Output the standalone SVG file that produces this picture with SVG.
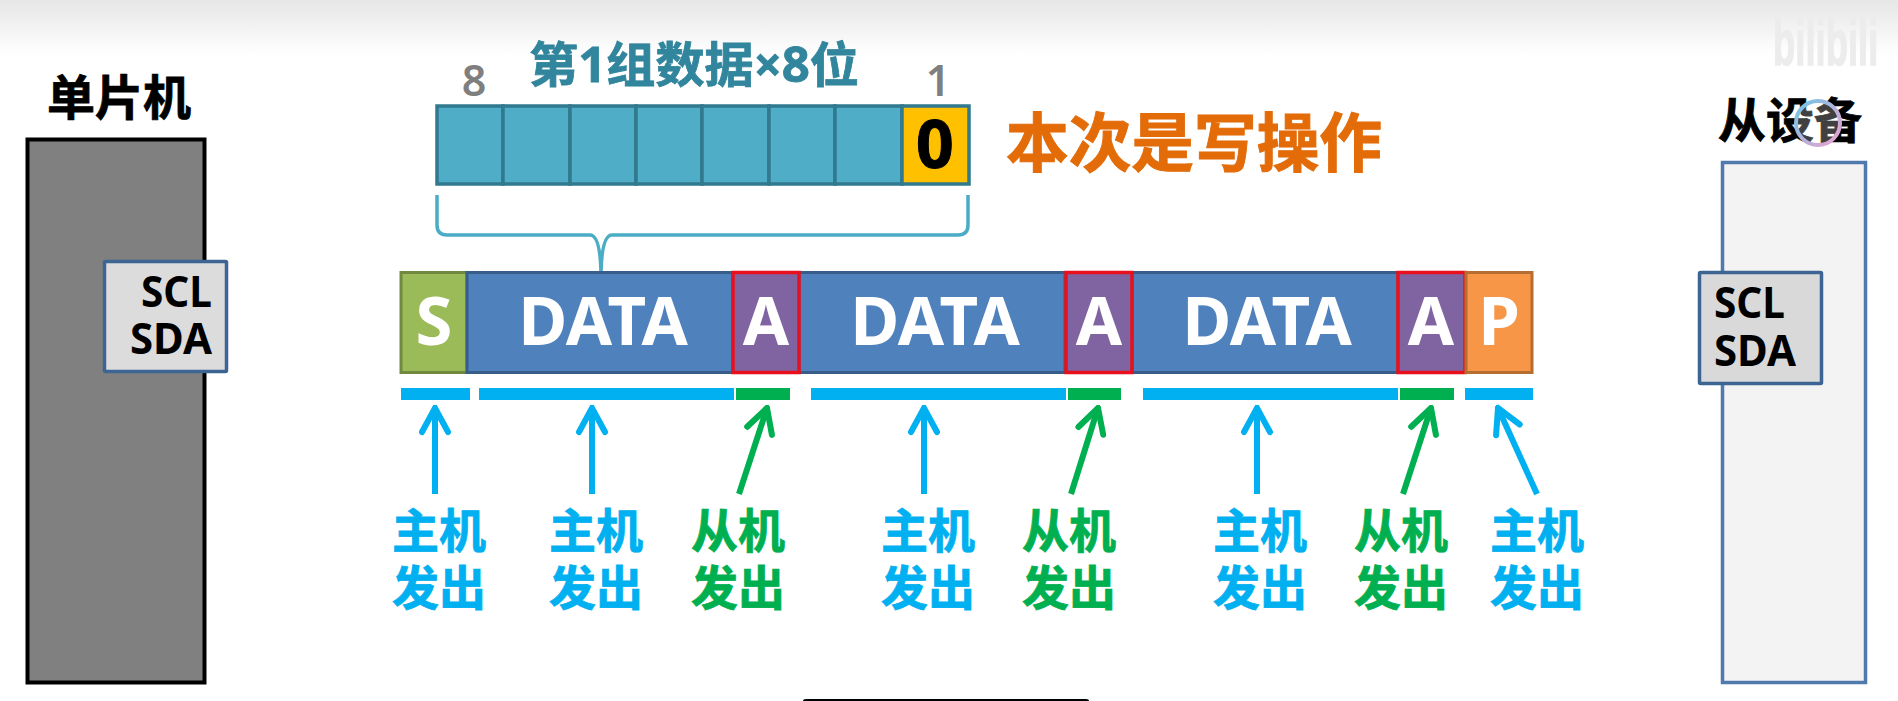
<svg xmlns="http://www.w3.org/2000/svg" width="1898" height="701" viewBox="0 0 1898 701">
<defs>
<linearGradient id="top" x1="0" y1="0" x2="0" y2="1"><stop offset="0" stop-color="#e6e6e6"/><stop offset="1" stop-color="#ffffff"/></linearGradient>
<linearGradient id="ring" x1="0" y1="0" x2="1" y2="1"><stop offset="0" stop-color="#6ec6e6"/><stop offset="1" stop-color="#f0a0d0"/></linearGradient>
<marker id="hb" viewBox="0 0 32 32" refX="29" refY="16" markerUnits="userSpaceOnUse" markerWidth="32" markerHeight="32" orient="auto"><path d="M5 3L29 16L5 29" fill="none" stroke="#00b0f0" stroke-width="6" stroke-linecap="round" stroke-linejoin="miter"/></marker>
<marker id="hg" viewBox="0 0 32 32" refX="29" refY="16" markerUnits="userSpaceOnUse" markerWidth="32" markerHeight="32" orient="auto"><path d="M5 3L29 16L5 29" fill="none" stroke="#00b050" stroke-width="6" stroke-linecap="round" stroke-linejoin="miter"/></marker>
</defs>
<style>
text{font-family:"Noto Sans","Noto Sans CJK SC",sans-serif}
.t{font-weight:700;fill:#000;stroke:#000;stroke-width:.8}
.pin{font-size:43px;font-weight:700;fill:#000}
.w{font-size:67px;font-weight:700;fill:#fff;text-anchor:middle}
.lb{font-size:47px;font-weight:700;text-anchor:middle;font-family:"Noto Sans CJK SC",sans-serif;stroke-width:.8}
.b{fill:#00b0f0}.g{fill:#00b050}
.lbl-b{fill:#00b0f0;stroke:#00b0f0}.lbl-g{fill:#00b050;stroke:#00b050}
.cell{fill:#4fadc8;stroke:#31798e;stroke-width:3.500}
.data{fill:#4f81bd;stroke:#385d8a;stroke-width:3}
.ack{fill:#8064a2;stroke:#e8101c;stroke-width:3.500}
.ab{stroke:#00b0f0;stroke-width:6;fill:none;marker-end:url(#hb)}
.ag{stroke:#00b050;stroke-width:6;fill:none;marker-end:url(#hg)}
</style>
<rect width="1898" height="701" fill="#fff"/>
<rect width="1898" height="55" fill="url(#top)"/>
<text transform="translate(1773,65) scale(.57,1)" font-size="64" font-weight="700" fill="#ececec" stroke="#ececec" stroke-width="1.500" style="font-family:'Liberation Sans',sans-serif">bilibili</text>
<g id="mcu">
<rect x="27.500" y="139.500" width="177" height="543" fill="#808080" stroke="#000" stroke-width="4"/>
<text class="t" x="119" y="115" font-size="48" text-anchor="middle" style="font-family:'Noto Sans CJK SC',sans-serif">单片机</text>
<rect x="104.500" y="261.500" width="122" height="110" rx="1" fill="#dcdcdc" stroke="#3d6594" stroke-width="3.500"/>
<text class="pin" x="212" y="307" text-anchor="end" textLength="71" lengthAdjust="spacingAndGlyphs">SCL</text>
<text class="pin" x="212" y="354" text-anchor="end" textLength="82" lengthAdjust="spacingAndGlyphs">SDA</text>
</g>
<g id="slave">
<rect x="1722.500" y="162.500" width="143" height="520" fill="#f3f3f3" stroke="#5079ad" stroke-width="3.500"/>
<text class="t" x="1790" y="138" font-size="48" text-anchor="middle" style="font-family:'Noto Sans CJK SC',sans-serif">从设备</text>
<rect x="1699.500" y="272.500" width="122" height="111" rx="1" fill="#d9d9d9" stroke="#3d6594" stroke-width="3.500"/>
<text class="pin" x="1714" y="318" textLength="71" lengthAdjust="spacingAndGlyphs">SCL</text>
<text class="pin" x="1714" y="366" textLength="82" lengthAdjust="spacingAndGlyphs">SDA</text>
<circle cx="1818" cy="123" r="22" fill="#ffffff" fill-opacity=".25" stroke="url(#ring)" stroke-width="4"/>
</g>
<g id="register">
<rect class="cell" x="437" y="106" width="66" height="78"/>
<rect class="cell" x="503" y="106" width="67" height="78"/>
<rect class="cell" x="570" y="106" width="66" height="78"/>
<rect class="cell" x="636" y="106" width="66" height="78"/>
<rect class="cell" x="702" y="106" width="67" height="78"/>
<rect class="cell" x="769" y="106" width="66" height="78"/>
<rect class="cell" x="835" y="106" width="67" height="78"/>
<rect x="902" y="106" width="67" height="78" fill="#ffc000" stroke="#31798e" stroke-width="3.500"/>
<text x="935" y="168" font-size="66" font-weight="700" fill="#000" stroke="#000" stroke-width="1" text-anchor="middle">0</text>
<text x="474" y="96" font-size="43" font-weight="600" fill="#7f7f7f" text-anchor="middle">8</text>
<text x="938" y="96" font-size="43" font-weight="600" fill="#7f7f7f" text-anchor="middle">1</text>
<text x="529" y="82" font-size="48" font-weight="700" fill="#31859c" stroke="#31859c" stroke-width=".8" textLength="330" lengthAdjust="spacingAndGlyphs">第1组数据×8位</text>
<text x="1006" y="166" font-size="64" font-weight="700" fill="#e36c09" stroke="#e36c09" stroke-width="1" textLength="376" lengthAdjust="spacingAndGlyphs" style="font-family:'Noto Sans CJK SC',sans-serif">本次是写操作</text>
</g>
<path id="brace" d="M437 195V225Q437 235 447 235H590Q600 235 601 272Q602 235 612 235H958Q968 235 968 225V195" fill="none" stroke="#4bacc6" stroke-width="3.500"/>
<g id="frame">
<g id="s"><rect x="401" y="272.500" width="66" height="100" fill="#9bbb59" stroke="#71893f" stroke-width="3"/><text class="w" x="434" y="345">S</text></g>
<g id="d1"><rect class="data" x="467" y="272.500" width="266" height="100"/><text class="w" x="603" y="345">DATA</text></g>
<g id="d2"><rect class="data" x="799" y="272.500" width="266" height="100"/><text class="w" x="935" y="345">DATA</text></g>
<g id="d3"><rect class="data" x="1132" y="272.500" width="266" height="100"/><text class="w" x="1267" y="345">DATA</text></g>
<g id="a1"><rect class="ack" x="733" y="272.500" width="66" height="100"/><text class="w" x="766" y="345">A</text></g>
<g id="a2"><rect class="ack" x="1066" y="272.500" width="66" height="100"/><text class="w" x="1099" y="345">A</text></g>
<g id="a3"><rect class="ack" x="1398" y="272.500" width="67" height="100"/><text class="w" x="1431" y="345">A</text></g>
<g id="p"><rect x="1466" y="272.500" width="66" height="100" fill="#f79646" stroke="#b66d31" stroke-width="3"/><text class="w" x="1499" y="345">P</text></g>
</g>
<g id="bars">
<rect class="b" x="401" y="388" width="69" height="12"/>
<rect class="b" x="479" y="388" width="255" height="12"/>
<rect class="g" x="736" y="388" width="54" height="12"/>
<rect class="b" x="811" y="388" width="255" height="12"/>
<rect class="g" x="1068" y="388" width="53" height="12"/>
<rect class="b" x="1143" y="388" width="255" height="12"/>
<rect class="g" x="1400" y="388" width="54" height="12"/>
<rect class="b" x="1465" y="388" width="68" height="12"/>
</g>
<g id="connectors">
<line class="ab" x1="435" y1="494" x2="435" y2="408"/>
<line class="ab" x1="592" y1="494" x2="592" y2="408"/>
<line class="ag" x1="739" y1="494" x2="767" y2="408"/>
<line class="ab" x1="924" y1="494" x2="924" y2="408"/>
<line class="ag" x1="1071" y1="494" x2="1098" y2="408"/>
<line class="ab" x1="1257" y1="494" x2="1257" y2="408"/>
<line class="ag" x1="1403" y1="494" x2="1431" y2="408"/>
<line class="ab" x1="1537" y1="494" x2="1498" y2="408"/>
</g>
<g id="labels">
<g class="lbl-b"><text class="lb" x="439" y="548">主机</text><text class="lb" x="439" y="605">发出</text></g>
<g class="lbl-b"><text class="lb" x="596" y="548">主机</text><text class="lb" x="596" y="605">发出</text></g>
<g class="lbl-g"><text class="lb" x="738" y="548">从机</text><text class="lb" x="738" y="605">发出</text></g>
<g class="lbl-b"><text class="lb" x="928" y="548">主机</text><text class="lb" x="928" y="605">发出</text></g>
<g class="lbl-g"><text class="lb" x="1069" y="548">从机</text><text class="lb" x="1069" y="605">发出</text></g>
<g class="lbl-b"><text class="lb" x="1260" y="548">主机</text><text class="lb" x="1260" y="605">发出</text></g>
<g class="lbl-g"><text class="lb" x="1401" y="548">从机</text><text class="lb" x="1401" y="605">发出</text></g>
<g class="lbl-b"><text class="lb" x="1537" y="548">主机</text><text class="lb" x="1537" y="605">发出</text></g>
</g>
<path id="bottom-bar" d="M803 701Q803 699 806 699H1086Q1089 699 1089 701Z" fill="#000"/>
</svg>
